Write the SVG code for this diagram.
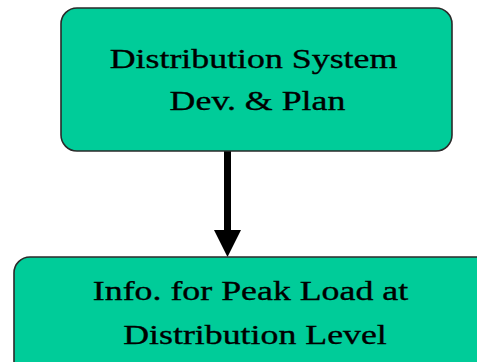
<svg xmlns="http://www.w3.org/2000/svg" width="477" height="362" viewBox="0 0 477 362">
<defs>
<style>
.box{fill:#00cc99;stroke:#2a2a2a;stroke-width:1.6}
.t{font-family:"Liberation Serif","Times New Roman",serif;font-size:28px;fill:#000;stroke:#000;stroke-width:0.35;text-anchor:middle}
</style>
</defs>
<g id="connectors">
<line x1="227.5" y1="151" x2="227.5" y2="232" stroke="#000" stroke-width="7"/>
<path d="M214,230 L241,230 L227.5,257 Z" fill="#000"/>
</g>
<g id="node1">
<rect class="box" x="61" y="8" width="391" height="143" rx="16" ry="16"/>
<text class="t" transform="translate(253.5,68) scale(1.28,1)">Distribution System</text>
<text class="t" transform="translate(257.5,110) scale(1.28,1)">Dev. &amp; Plan</text>
</g>
<g id="node2">
<rect class="box" x="14" y="257" width="480" height="130" rx="16" ry="16"/>
<text class="t" transform="translate(250.5,300) scale(1.28,1)">Info. for Peak Load at</text>
<text class="t" transform="translate(255,344) scale(1.28,1)">Distribution Level</text>
</g>
</svg>
